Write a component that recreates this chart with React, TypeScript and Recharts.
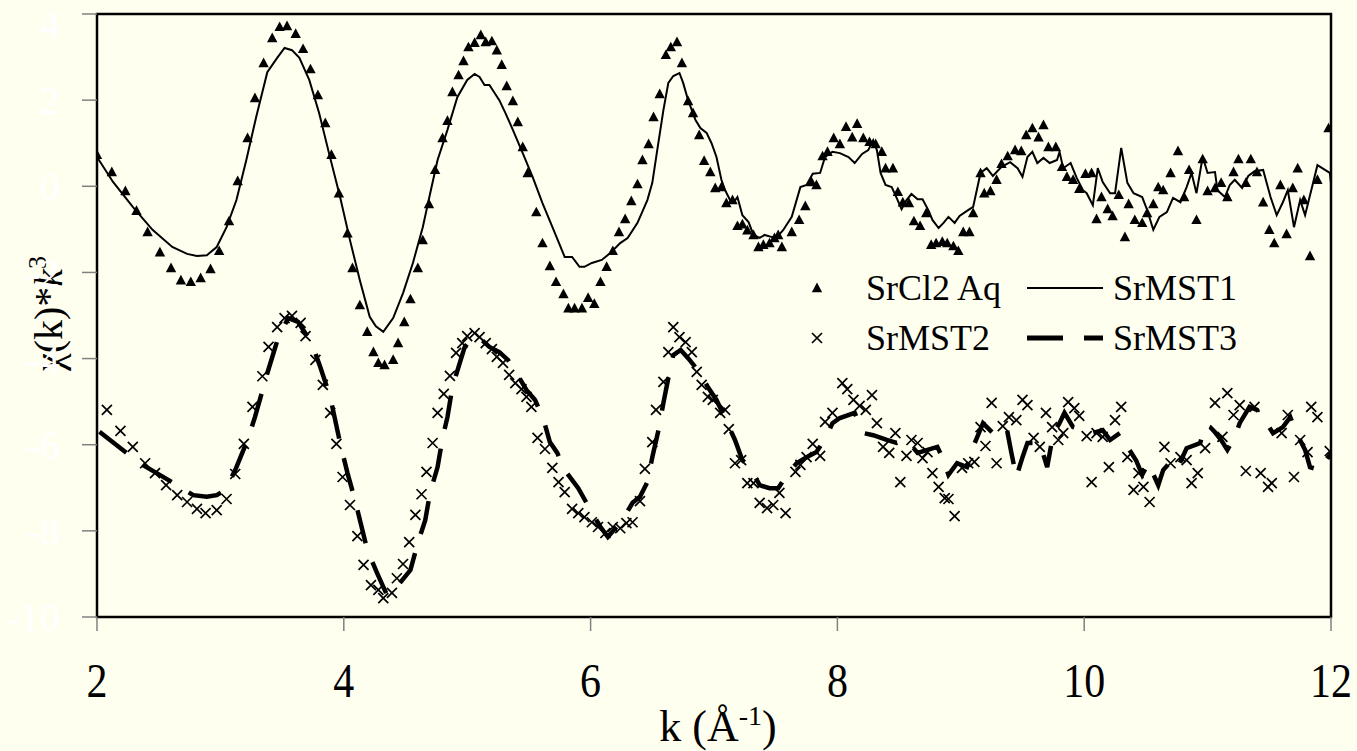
import React from 'react';
import {
  ComposedChart,
  Line,
  Scatter,
  XAxis,
  YAxis,
  Legend,
  Label,
  ReferenceArea,
} from 'recharts';

// page + plot colours
const BG = '#FFFFF0';
const INK = '#000000';
const TICK_GRAY = '#808080';
const FONT = '"Liberation Serif", "Times New Roman", serif';

// axis ticks
const X_TICKS = [2, 4, 6, 8, 10, 12];
const Y_TICKS = [-10, -8, -6, -4, -2, 0, 2, 4];

// SrCl2 Aq (triangles)
const K_SRCL2 = [
  2.0, 2.12, 2.23, 2.32, 2.41, 2.51, 2.6, 2.68, 2.76, 2.84, 2.92, 2.99, 3.07, 3.14, 3.22, 3.28, 3.35, 3.42, 3.48, 3.54,
  3.61, 3.67, 3.73, 3.79, 3.85, 3.9, 3.96, 4.03, 4.07, 4.13, 4.19, 4.24, 4.28, 4.33, 4.4, 4.44, 4.49, 4.54, 4.6, 4.64,
  4.69, 4.74, 4.8, 4.84, 4.88, 4.93, 4.97, 5.01, 5.06, 5.11, 5.15, 5.2, 5.24, 5.28, 5.32, 5.37, 5.41, 5.45, 5.49, 5.56,
  5.61, 5.67, 5.72, 5.78, 5.82, 5.87, 5.93, 5.98, 6.03, 6.08, 6.13, 6.18, 6.23, 6.28, 6.33, 6.38, 6.42, 6.47, 6.51, 6.56,
  6.61, 6.65, 6.7, 6.74, 6.79, 6.83, 6.88, 6.92, 6.97, 7.01, 7.06, 7.1, 7.15, 7.19, 7.23, 7.27, 7.32, 7.36, 7.4, 7.45,
  7.49, 7.52, 7.55, 7.63, 7.69, 7.74, 7.79, 7.83, 7.88, 7.92, 7.97, 8.02, 8.07, 8.12, 8.16, 8.21, 8.26, 8.31, 8.36, 8.39,
  8.45, 8.49, 8.53, 8.58, 8.62, 8.67, 8.72, 8.76, 8.8, 8.85, 8.89, 8.94, 8.98, 9.02, 9.07, 9.1, 9.16, 9.19, 9.24, 9.29,
  9.33, 9.38, 9.44, 9.49, 9.53, 9.58, 9.63, 9.67, 9.71, 9.77, 9.82, 9.86, 9.91, 9.96, 10.01, 10.06, 10.1, 10.14, 10.19, 10.23,
  10.28, 10.33, 10.36, 10.41, 10.47, 10.51, 10.56, 10.6, 10.64, 10.7, 10.76, 10.81, 10.85, 10.91, 10.96, 11.0, 11.06, 11.11, 11.16, 11.21,
  11.25, 11.31, 11.35, 11.4, 11.45, 11.5, 11.54, 11.59, 11.64, 11.69, 11.73, 11.78, 11.83, 11.89, 11.98,
];
const Y_SRCL2 = [
  0.73, 0.33, -0.11, -0.57, -1.06, -1.53, -1.9, -2.18, -2.22, -2.13, -1.92, -1.5, -0.81, 0.12, 1.12, 2.05, 2.86, 3.44, 3.7, 3.72,
  3.54, 3.19, 2.72, 2.12, 1.47, 0.73, -0.16, -1.09, -1.9, -2.76, -3.38, -3.85, -4.1, -4.15, -4.03, -3.64, -3.15, -2.62, -1.9, -1.25,
  -0.41, 0.38, 1.12, 1.52, 2.19, 2.58, 2.91, 3.23, 3.33, 3.51, 3.35, 3.37, 3.16, 2.82, 2.33, 1.98, 1.49, 0.91, 0.31, -0.6,
  -1.32, -1.85, -2.22, -2.5, -2.83, -2.83, -2.83, -2.59, -2.73, -2.22, -1.87, -1.5, -1.06, -0.76, -0.34, 0.05, 0.61, 0.98, 1.61, 2.14,
  3.05, 3.23, 3.35, 2.86, 1.98, 1.7, 1.19, 0.59, 0.33, -0.04, -0.02, -0.39, -0.32, -0.92, -0.88, -1.02, -1.13, -1.41, -1.36, -1.32,
  -1.2, -1.13, -1.41, -1.06, -0.78, -0.46, 0.1, 0.03, 0.7, 0.8, 1.12, 0.98, 1.38, 1.14, 1.45, 1.12, 1.03, 0.98, 0.8, 0.42,
  0.42, -0.13, -0.37, -0.39, -0.81, -0.92, -0.62, -1.36, -1.32, -1.29, -1.32, -1.39, -1.5, -1.06, -1.06, -0.62, 0.31, -0.16, -0.11, 0.15,
  0.52, 0.7, 0.84, 0.82, 1.19, 1.35, 1.14, 1.42, 0.91, 0.91, 0.45, 0.22, 0.15, -0.06, 0.29, 0.31, -0.76, -0.25, -0.53, -0.69,
  -0.2, -1.18, -0.41, -0.78, -0.85, -0.62, -0.41, -0.02, -0.09, 0.31, 0.82, -0.25, 0.38, -0.78, 0.63, -0.11, -0.04, 0.08, -0.25, 0.33,
  0.63, 0.08, 0.63, 0.33, -0.37, -1.01, -1.32, 0.03, -1.11, -0.04, 0.42, -0.32, -1.62, 0.15, 1.35,
];

// SrMST1 (thin solid line)
const K_MST1 = [
  2.0, 2.13, 2.29, 2.45, 2.61, 2.73, 2.81, 2.89, 2.97, 3.05, 3.13, 3.21, 3.29, 3.38, 3.46, 3.52, 3.58, 3.64, 3.72, 3.8,
  3.88, 3.97, 4.05, 4.13, 4.21, 4.26, 4.32, 4.4, 4.48, 4.56, 4.64, 4.7, 4.76, 4.84, 4.92, 5.0, 5.06, 5.1, 5.14, 5.18,
  5.26, 5.31, 5.37, 5.45, 5.53, 5.61, 5.7, 5.79, 5.85, 5.91, 5.95, 6.01, 6.09, 6.16, 6.24, 6.3, 6.38, 6.46, 6.5, 6.54,
  6.59, 6.63, 6.67, 6.72, 6.75, 6.79, 6.85, 6.89, 6.94, 6.98, 7.02, 7.06, 7.09, 7.13, 7.16, 7.19, 7.23, 7.28, 7.32, 7.37,
  7.41, 7.47, 7.51, 7.56, 7.63, 7.7, 7.75, 7.8, 7.86, 7.9, 7.96, 8.02, 8.09, 8.14, 8.2, 8.25, 8.29, 8.32, 8.35, 8.39,
  8.44, 8.48, 8.52, 8.56, 8.6, 8.65, 8.69, 8.74, 8.77, 8.82, 8.86, 8.9, 8.95, 8.99, 9.05, 9.1, 9.16, 9.21, 9.26, 9.33,
  9.4, 9.46, 9.5, 9.54, 9.58, 9.62, 9.67, 9.72, 9.78, 9.8, 9.83, 9.89, 9.94, 9.99, 10.02, 10.07, 10.11, 10.15, 10.21, 10.25,
  10.3, 10.35, 10.4, 10.47, 10.51, 10.56, 10.61, 10.67, 10.72, 10.78, 10.83, 10.87, 10.91, 10.96, 11.0, 11.06, 11.08, 11.14, 11.18, 11.22,
  11.28, 11.33, 11.38, 11.45, 11.51, 11.56, 11.61, 11.65, 11.7, 11.75, 11.79, 11.84, 11.89, 11.99, 12.03,
];
const Y_MST1 = [
  0.68, 0.1, -0.48, -1.01, -1.41, -1.57, -1.62, -1.6, -1.41, -0.95, -0.32, 0.61, 1.61, 2.65, 2.98, 3.21, 3.16, 2.98, 2.47, 1.7,
  0.77, -0.25, -1.25, -2.18, -3.03, -3.25, -3.38, -3.06, -2.48, -1.78, -0.95, -0.16, 0.61, 1.31, 2.07, 2.47, 2.61, 2.54, 2.35, 2.35,
  2.0, 1.7, 1.31, 0.77, 0.22, -0.39, -1.01, -1.64, -1.64, -1.87, -1.87, -1.78, -1.71, -1.55, -1.32, -1.2, -0.85, -0.32, 0.08, 0.84,
  1.77, 2.4, 2.56, 2.63, 2.4, 2.0, 1.54, 1.35, 1.24, 1.0, 0.68, 0.15, -0.09, -0.32, -0.37, -0.25, -0.67, -0.83, -1.13, -1.2,
  -1.13, -1.18, -1.18, -1.02, -0.71, -0.02, 0.03, 0.29, 0.31, 0.68, 0.8, 0.77, 0.68, 0.54, 0.75, 0.84, 1.07, 0.84, 0.31, 0.03,
  -0.02, -0.27, -0.53, -0.32, -0.18, -0.3, -0.3, -0.57, -0.78, -0.97, -0.85, -0.71, -0.85, -0.69, -0.57, -0.48, 0.31, 0.42, 0.24, 0.45,
  0.56, 0.42, 0.22, 0.68, 0.8, 0.54, 0.66, 0.54, 0.61, 0.8, 0.42, 0.54, 0.19, -0.09, -0.16, -0.44, 0.42, 0.1, -0.16, -0.16,
  0.89, 0.08, -0.16, -0.25, -0.55, -1.01, -0.71, -0.6, -0.27, -0.37, -0.02, 0.31, -0.16, 0.68, 0.31, 0.33, -0.09, -0.25, 0.03, 0.15,
  -0.04, 0.24, 0.35, 0.38, -0.25, -0.67, -0.37, -0.09, -0.95, -0.32, -0.67, -0.09, 0.49, 0.31, -0.62,
];

// SrMST2 (crosses)
const K_MST2 = [
  2.08, 2.19, 2.29, 2.39, 2.47, 2.56, 2.65, 2.73, 2.81, 2.88, 2.97, 3.05, 3.12, 3.19, 3.26, 3.34, 3.39, 3.46, 3.52, 3.58,
  3.65, 3.69, 3.77, 3.83, 3.89, 3.94, 3.99, 4.05, 4.11, 4.16, 4.22, 4.28, 4.32, 4.39, 4.43, 4.48, 4.53, 4.58, 4.63, 4.67,
  4.72, 4.76, 4.81, 4.86, 4.91, 4.96, 5.0, 5.06, 5.1, 5.15, 5.2, 5.24, 5.29, 5.34, 5.39, 5.44, 5.48, 5.52, 5.57, 5.63,
  5.69, 5.74, 5.79, 5.85, 5.9, 5.95, 6.01, 6.06, 6.12, 6.18, 6.24, 6.29, 6.34, 6.4, 6.44, 6.5, 6.53, 6.59, 6.63, 6.67,
  6.72, 6.77, 6.82, 6.86, 6.9, 6.95, 6.99, 7.05, 7.09, 7.12, 7.17, 7.22, 7.27, 7.32, 7.37, 7.43, 7.48, 7.53, 7.58, 7.66,
  7.7, 7.75, 7.8, 7.86, 7.9, 7.96, 8.04, 8.08, 8.13, 8.18, 8.23, 8.28, 8.32, 8.37, 8.42, 8.47, 8.51, 8.56, 8.6, 8.65,
  8.69, 8.73, 8.77, 8.82, 8.87, 8.9, 8.95, 9.01, 9.06, 9.11, 9.16, 9.2, 9.25, 9.29, 9.34, 9.39, 9.45, 9.5, 9.54, 9.59,
  9.64, 9.69, 9.74, 9.79, 9.83, 9.87, 9.92, 9.96, 10.02, 10.06, 10.1, 10.15, 10.2, 10.25, 10.3, 10.35, 10.4, 10.44, 10.48, 10.53,
  10.65, 10.7, 10.78, 10.83, 10.87, 10.92, 10.98, 11.06, 11.12, 11.16, 11.21, 11.26, 11.31, 11.38, 11.43, 11.49, 11.52, 11.6, 11.65, 11.7,
  11.75, 11.81, 11.84, 11.89, 11.99,
];
const Y_MST2 = [
  -5.19, -5.68, -6.05, -6.43, -6.66, -6.94, -7.17, -7.33, -7.49, -7.59, -7.52, -7.26, -6.68, -5.98, -5.12, -4.41, -3.73, -3.27, -3.06, -3.01,
  -3.17, -3.48, -4.03, -4.61, -5.26, -5.98, -6.75, -7.4, -8.12, -8.79, -9.26, -9.37, -9.56, -9.44, -9.1, -8.77, -8.26, -7.63, -7.15, -6.63,
  -5.96, -5.26, -4.82, -4.4, -3.87, -3.64, -3.48, -3.41, -3.5, -3.64, -3.78, -3.96, -4.1, -4.38, -4.57, -4.71, -4.89, -5.12, -5.84, -6.1,
  -6.54, -6.87, -7.1, -7.49, -7.59, -7.68, -7.8, -7.91, -8.05, -7.91, -7.94, -7.82, -7.8, -7.31, -6.56, -5.94, -5.19, -4.54, -3.85, -3.27,
  -3.5, -3.62, -3.85, -4.31, -4.61, -4.89, -4.96, -5.26, -5.19, -5.64, -6.43, -6.36, -6.89, -6.89, -7.35, -7.47, -7.4, -7.12, -7.59, -6.63,
  -6.47, -6.29, -5.98, -6.26, -5.47, -5.26, -4.57, -4.71, -4.96, -5.1, -5.19, -4.85, -5.5, -6.05, -6.19, -5.73, -6.87, -6.26, -5.89, -5.96,
  -6.31, -6.17, -6.66, -6.98, -7.24, -7.26, -7.66, -6.54, -6.43, -6.4, -5.59, -6.03, -5.03, -6.43, -5.57, -5.36, -5.43, -4.96, -5.08, -5.84,
  -6.05, -5.26, -5.59, -5.89, -5.73, -5.01, -5.15, -5.33, -5.8, -6.87, -5.73, -5.82, -6.52, -5.43, -5.12, -6.29, -7.05, -6.66, -6.98, -7.33,
  -6.05, -6.43, -6.29, -6.36, -6.89, -6.66, -6.08, -5.03, -5.82, -4.8, -5.31, -5.08, -6.61, -5.12, -6.66, -6.98, -6.89, -5.73, -5.31, -6.75,
  -5.89, -6.17, -5.12, -5.36, -6.15,
];

// SrMST3 (thick dashed line)
const K_MST3 = [
  2.02, 2.24, 2.37, 2.62, 2.78, 2.89, 2.97, 3.04, 3.12, 3.22, 3.28, 3.38, 3.47, 3.55, 3.63, 3.74, 3.81, 3.89, 3.97, 4.03,
  4.09, 4.19, 4.27, 4.32, 4.35, 4.41, 4.54, 4.6, 4.66, 4.7, 4.76, 4.8, 4.84, 4.88, 4.94, 4.98, 5.05, 5.1, 5.18, 5.26,
  5.33, 5.4, 5.48, 5.55, 5.62, 5.67, 5.73, 5.79, 5.9, 6.0, 6.08, 6.14, 6.21, 6.29, 6.34, 6.4, 6.46, 6.5, 6.55, 6.59,
  6.63, 6.67, 6.73, 6.79, 6.87, 6.95, 7.02, 7.07, 7.17, 7.23, 7.29, 7.37, 7.45, 7.52, 7.6, 7.67, 7.75, 7.83, 7.91, 7.96,
  8.02, 8.14, 8.21, 8.29, 8.4, 8.48, 8.56, 8.65, 8.73, 8.81, 8.85, 8.9, 8.97, 9.05, 9.1, 9.18, 9.26, 9.37, 9.41, 9.45,
  9.5, 9.54, 9.64, 9.7, 9.75, 9.8, 9.84, 9.91, 9.99, 10.07, 10.15, 10.21, 10.29, 10.35, 10.42, 10.47, 10.52, 10.6, 10.64, 10.71,
  10.76, 10.83, 10.94, 10.98, 11.02, 11.06, 11.11, 11.16, 11.22, 11.26, 11.34, 11.4, 11.46, 11.53, 11.61, 11.67, 11.72, 11.79, 11.83, 11.91,
  12.0,
];
const Y_MST3 = [
  -5.7, -6.19, -6.47, -6.89, -7.17, -7.21, -7.17, -7.05, -6.59, -5.89, -5.36, -4.34, -3.5, -3.06, -3.15, -3.64, -4.2, -4.89, -5.96, -6.66,
  -7.28, -8.44, -8.98, -9.3, -9.49, -9.37, -8.91, -8.28, -7.75, -7.1, -6.52, -5.84, -5.36, -4.66, -4.1, -3.73, -3.5, -3.52, -3.73, -3.85,
  -4.03, -4.34, -4.73, -4.96, -5.43, -5.94, -6.19, -6.59, -7.01, -7.52, -7.91, -8.14, -7.91, -7.59, -7.35, -7.21, -6.87, -6.29, -5.66, -5.03,
  -4.45, -3.92, -3.8, -3.99, -4.27, -4.66, -4.96, -5.26, -5.89, -6.36, -6.52, -6.94, -7.01, -7.01, -6.66, -6.43, -6.29, -6.17, -5.82, -5.5,
  -5.38, -5.26, -5.73, -5.78, -5.89, -5.96, -5.89, -6.19, -6.12, -6.05, -6.29, -6.7, -6.43, -6.52, -6.05, -5.5, -5.73, -5.59, -6.19, -6.75,
  -6.29, -5.96, -5.96, -6.52, -5.73, -5.5, -5.26, -5.59, -5.66, -5.73, -5.66, -5.89, -5.73, -6.05, -6.36, -6.7, -6.43, -6.94, -6.59, -6.36,
  -6.52, -6.08, -5.96, -5.54, -5.59, -5.71, -5.89, -6.12, -5.82, -5.5, -5.12, -5.19, -5.43, -5.73, -5.59, -5.36, -5.73, -6.12, -6.52, -6.59,
  -6.19,
];

const zip = (ks: number[], ys: number[]) => ks.map((k, i) => ({ k, y: ys[i] }));

const srcl2Data = zip(K_SRCL2, Y_SRCL2);
const mst1Data = zip(K_MST1, Y_MST1);
const mst2Data = zip(K_MST2, Y_MST2);
const mst3Data = zip(K_MST3, Y_MST3);

const DASH = '34 20';

// marker shapes
const TriangleDot = (props: any) => {
  const { cx, cy } = props;
  if (cx == null || cy == null) return null;
  return <path d={`M${cx},${cy - 5.5}L${cx + 5.2},${cy + 4.2}L${cx - 5.2},${cy + 4.2}Z`} fill={INK} />;
};

const CrossDot = (props: any) => {
  const { cx, cy } = props;
  if (cx == null || cy == null) return null;
  return (
    <path
      d={`M${cx - 5},${cy - 5}L${cx + 5},${cy + 5}M${cx + 5},${cy - 5}L${cx - 5},${cy + 5}`}
      stroke={INK}
      strokeWidth={1.7}
      fill="none"
    />
  );
};

// tick digits in the original are drawn a little taller than wide
const XTick = (props: any) => {
  const { x, y, payload } = props;
  return (
    <text
      transform={`translate(${x},${y + 64}) scale(1,1.14)`}
      textAnchor="middle"
      fontSize={42}
      fontFamily={FONT}
      fill={INK}
    >
      {payload.value}
    </text>
  );
};

const XTitle = (props: any) => {
  const { x, y, width } = props.viewBox;
  return (
    <text x={x + width / 2 + 4} y={y + 124} textAnchor="middle" fontSize={44} fontFamily={FONT} fill={INK}>
      k (Å
      <tspan dy={-16} fontSize={28}>
        -1
      </tspan>
      <tspan dy={16}>)</tspan>
    </text>
  );
};

const YTitle = (props: any) => {
  const { y, height } = props.viewBox;
  const cy = y + height / 2 - 2;
  return (
    <text
      transform={`translate(62,${cy}) rotate(-90)`}
      textAnchor="middle"
      fontSize={40}
      fontFamily={FONT}
      fill={INK}
    >
      χ(k)*
      <tspan fontStyle="italic">k</tspan>
      <tspan dy={-16} fontSize={26}>
        3
      </tspan>
    </text>
  );
};

const LEGEND_ITEMS = [
  { name: 'SrCl2 Aq', kind: 'triangle', col: 0, row: 0 },
  { name: 'SrMST1', kind: 'solid', col: 1, row: 0 },
  { name: 'SrMST2', kind: 'cross', col: 0, row: 1 },
  { name: 'SrMST3', kind: 'dash', col: 1, row: 1 },
];

const LegendBox = () => (
  <svg width={470} height={100} style={{ overflow: 'visible', display: 'block' }}>
    {LEGEND_ITEMS.map((it) => {
      const cy = 26 + it.row * 50;
      const textX = it.col === 0 ? 66 : 313;
      let sym: React.ReactNode = null;
      if (it.kind === 'triangle') sym = <TriangleDot cx={17} cy={cy} />;
      if (it.kind === 'cross') sym = <CrossDot cx={17} cy={cy} />;
      if (it.kind === 'solid') sym = <line x1={227} x2={303} y1={cy} y2={cy} stroke={INK} strokeWidth={2} />;
      if (it.kind === 'dash')
        sym = (
          <line x1={227} x2={303} y1={cy} y2={cy} stroke={INK} strokeWidth={5} strokeDasharray="36 21" />
        );
      return (
        <g key={it.name}>
          {sym}
          <text x={textX} y={cy + 12} fontSize={36} fontFamily={FONT} fill={INK}>
            {it.name}
          </text>
        </g>
      );
    })}
  </svg>
);

export default function App() {
  return (
    <div
      style={{
        position: 'fixed',
        left: 0,
        top: 0,
        width: 1357,
        height: 751,
        background: BG,
        overflow: 'hidden',
      }}
    >
      <ComposedChart
        width={1357}
        height={751}
        margin={{ top: 14, right: 26, bottom: 0, left: 0 }}
      >
        <XAxis
          dataKey="k"
          type="number"
          domain={[2, 12]}
          ticks={X_TICKS}
          allowDataOverflow
          height={134}
          axisLine={false}
          tickLine={{ stroke: TICK_GRAY, strokeWidth: 1.5 }}
          tickSize={14}
          tickMargin={2}
          tick={<XTick />}
        >
          <Label content={<XTitle />} />
        </XAxis>
        <YAxis
          type="number"
          domain={[-10, 4]}
          ticks={Y_TICKS}
          allowDataOverflow
          width={97}
          axisLine={false}
          tickLine={{ stroke: TICK_GRAY, strokeWidth: 1.5 }}
          tickSize={15}
          tickMargin={22}
          tick={{ fill: '#FFFFFF', fontSize: 40, fontFamily: FONT }}
        >
          <Label content={<YTitle />} />
        </YAxis>
        <ReferenceArea
          x1={2}
          x2={12}
          y1={-10}
          y2={4}
          fill="none"
          fillOpacity={0}
          stroke={INK}
          strokeWidth={2.5}
          ifOverflow="visible"
        />
        <Line
          data={mst1Data}
          dataKey="y"
          name="SrMST1"
          type="linear"
          stroke={INK}
          strokeWidth={2}
          dot={false}
          activeDot={false}
          isAnimationActive={false}
        />
        <Scatter
          data={srcl2Data}
          dataKey="y"
          name="SrCl2 Aq"
          shape={<TriangleDot />}
          isAnimationActive={false}
        />
        <Line
          data={mst3Data}
          dataKey="y"
          name="SrMST3"
          type="linear"
          stroke={INK}
          strokeWidth={4.5}
          strokeDasharray={DASH}
          dot={false}
          activeDot={false}
          isAnimationActive={false}
        />
        <Scatter
          data={mst2Data}
          dataKey="y"
          name="SrMST2"
          shape={<CrossDot />}
          isAnimationActive={false}
        />
        <Legend
          layout="vertical"
          align="center"
          verticalAlign="middle"
          content={<LegendBox />}
          wrapperStyle={{ left: 800, top: 262, width: 470, height: 100 }}
        />
      </ComposedChart>
    </div>
  );
}
